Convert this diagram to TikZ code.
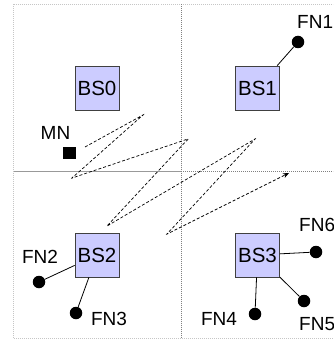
\documentclass[tikz,border=0pt]{standalone}
\usepackage{fontspec}
\setmainfont{Liberation Sans}
\usetikzlibrary{arrows.meta,calc}
\begin{document}
\begin{tikzpicture}[x=1pt,y=-1pt,
  bs/.style={draw=black!75,line width=0.8pt,fill=blue!20,minimum size=44pt,inner sep=0pt,font=\fontsize{20.5}{22}\selectfont},
  fn/.style={circle,fill=black,minimum size=12.5pt,inner sep=0pt},
  tag/.style={inner sep=0pt,font=\fontsize{19}{21}\selectfont},
  link/.style={line width=0.8pt},
  zigzag/.style={line width=0.7pt,dash pattern=on 3pt off 2pt,-{Stealth[length=6pt,width=5pt]}}]
\useasboundingbox (0,0) rectangle (333,339);
\clip (0,0) rectangle (333,339);
%\draw[step=10,gray,very thin] (0,0) grid (333,339);
\draw[gray!45,line width=1pt,dash pattern=on 1pt off 1pt] (13.5,4.5) rectangle (340,338);
\draw[gray,dash pattern=on 1pt off 1pt] (181,4.5) -- (181,338);
\draw[gray!80] (13.5,171) -- (181,171);
\draw[gray,dash pattern=on 1pt off 1pt] (181,171) -- (340,171);

\node[bs] (bs0) at (97,88) {BS0};
\node[bs] (bs1) at (257.5,88) {BS1};
\node[bs] (bs2) at (97,255) {BS2};
\node[bs] (bs3) at (257.5,255) {BS3};

\node[fn] (fn1) at (298,42) {};
\node[fn] (fn2) at (39,282) {};
\node[fn] (fn3) at (76,313) {};
\node[fn] (fn4) at (255,314) {};
\node[fn] (fn5) at (304,301) {};
\node[fn] (fn6) at (316,252) {};

\node[tag,anchor=west] (fn1t) at (297,21.5) {FN1};
\node[tag] (fn2t) at (40,257) {FN2};
\node[tag] (fn3t) at (109,319) {FN3};
\node[tag] (fn4t) at (219,319) {FN4};
\node[tag,anchor=west] (fn5t) at (299,324) {FN5};
\node[tag,anchor=west] (fn6t) at (299,225) {FN6};

\draw[link] (bs1) -- (fn1);
\draw[link] (bs2) -- (fn2);
\draw[link] (bs2) -- (fn3);
\draw[link] (bs3) -- (fn4);
\draw[link] (bs3) -- (fn5);
\draw[link] (bs3) -- (fn6);

%------------------------------------------------

\node[tag] (mnt) at (55.5,133) {MN};
\node[fill=black,minimum size=12.5pt,inner sep=0pt] (mn) at (69.5,153) {};
\coordinate (s) at (85,147);
\coordinate (t1) at (143,115);
\coordinate (t2) at (72,178);
\coordinate (t3) at (188,139);
\coordinate (t4) at (107,226);
\coordinate (t5) at (255,139);
\coordinate (t6) at (167,234);
\coordinate (e) at (289,173);
\draw[zigzag] (s) -- ($(t1)!8pt!(s)$) .. controls ($(t1)!-3pt!(s)$) and ($(t1)!-3pt!(t2)$) .. ($(t1)!8pt!(t2)$)
  -- ($(t2)!8pt!(t1)$) .. controls ($(t2)!-3pt!(t1)$) and ($(t2)!-3pt!(t3)$) .. ($(t2)!8pt!(t3)$)
  -- ($(t3)!8pt!(t2)$) .. controls ($(t3)!-3pt!(t2)$) and ($(t3)!-3pt!(t4)$) .. ($(t3)!8pt!(t4)$)
  -- ($(t4)!8pt!(t3)$) .. controls ($(t4)!-3pt!(t3)$) and ($(t4)!-3pt!(t5)$) .. ($(t4)!8pt!(t5)$)
  -- ($(t5)!8pt!(t4)$) .. controls ($(t5)!-3pt!(t4)$) and ($(t5)!-3pt!(t6)$) .. ($(t5)!8pt!(t6)$)
  -- ($(t6)!8pt!(t5)$) .. controls ($(t6)!-3pt!(t5)$) and ($(t6)!-3pt!(e)$) .. ($(t6)!8pt!(e)$)
  -- (e);
\end{tikzpicture}
\end{document}
